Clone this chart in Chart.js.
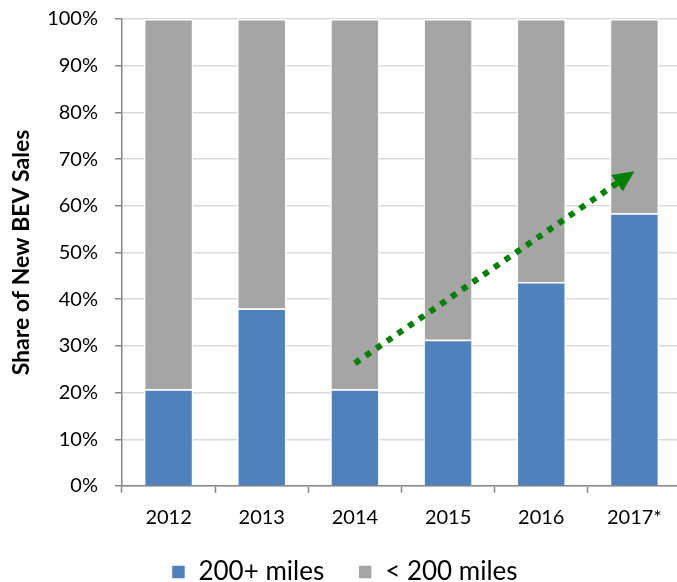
<!DOCTYPE html>
<html>
<head>
<meta charset="utf-8">
<script src="https://cdn.jsdelivr.net/npm/chart.js@4"></script>
<style>
  html, body { margin: 0; padding: 0; background: #fff; overflow: hidden; }
</style>
</head>
<body>
<canvas id="bev-chart" width="681" height="582"></canvas>
<script>
const years = ['2012', '2013', '2014', '2015', '2016', '2017*'];
// share of BEV sales with 200+ miles of range (%)
const longRange = [20.7, 38.0, 20.7, 31.3, 43.7, 58.4];
// the rest of the bar is the < 200 miles share
const shortRange = longRange.map(v => +(100 - v).toFixed(1));
const yTicks = [0, 10, 20, 30, 40, 50, 60, 70, 80, 90, 100];
// trend arrow, [category index, percent] at each end
const trendStart = [2, 26.3];
const trendEnd = [5, 67.4];

const FONT = 'Lato, "Open Sans", sans-serif';
const AXIS_GREY = '#868686';

// dotted green arrow drawn over the bars
const trendArrow = {
  id: 'trendArrow',
  afterDatasetsDraw(chart) {
    const { ctx, scales: { x, y } } = chart;
    const x1 = x.getPixelForValue(trendStart[0]), y1 = y.getPixelForValue(trendStart[1]);
    const x2 = x.getPixelForValue(trendEnd[0]), y2 = y.getPixelForValue(trendEnd[1]);
    const ang = Math.atan2(y2 - y1, x2 - x1);
    const head = 21, half = 10;
    const bx = x2 - head * Math.cos(ang), by = y2 - head * Math.sin(ang);
    ctx.save();
    ctx.strokeStyle = '#008000';
    ctx.fillStyle = '#008000';
    ctx.lineWidth = 6;
    ctx.setLineDash([6, 7]);
    ctx.beginPath();
    ctx.moveTo(x1, y1);
    ctx.lineTo(bx, by);
    ctx.stroke();
    ctx.setLineDash([]);
    ctx.beginPath();
    ctx.moveTo(x2, y2);
    ctx.lineTo(bx + half * Math.sin(ang), by - half * Math.cos(ang));
    ctx.lineTo(bx - half * Math.sin(ang), by + half * Math.cos(ang));
    ctx.closePath();
    ctx.fill();
    ctx.restore();
  }
};

new Chart(document.getElementById('bev-chart'), {
  type: 'bar',
  data: {
    labels: years,
    datasets: [
      {
        label: '200+ miles',
        data: longRange,
        backgroundColor: '#4f81bd',
        borderColor: '#ffffff',
        borderWidth: 1.5
      },
      {
        label: '< 200 miles',
        data: shortRange,
        backgroundColor: '#a5a5a5',
        borderColor: '#ffffff',
        borderWidth: 1.5
      }
    ]
  },
  options: {
    responsive: false,
    animation: false,
    categoryPercentage: 1,
    barPercentage: 0.53,
    layout: {
      autoPadding: false,
      padding: { top: 19, left: 8, right: 0, bottom: -13 }
    },
    plugins: {
      tooltip: { enabled: false },
      legend: {
        position: 'bottom',
        labels: {
          color: '#000',
          font: { family: FONT, size: 26 },
          boxWidth: 14,
          boxHeight: 14,
          padding: 34
        }
      }
    },
    scales: {
      x: {
        stacked: true,
        afterFit(scale) {
          scale.height = 39;
        },
        grid: {
          drawOnChartArea: false,
          tickLength: 7,
          tickColor: AXIS_GREY,
          tickWidth: 1.5
        },
        border: { color: AXIS_GREY, width: 1.5 },
        ticks: { color: '#000', font: { family: FONT, size: 20 }, padding: 13 }
      },
      y: {
        stacked: true,
        min: 0,
        max: 100,
        afterBuildTicks(scale) {
          scale.ticks = yTicks.map(v => ({ value: v }));
        },
        afterFit(scale) {
          scale.width = 114;
          scale.paddingTop = 0;
          scale.paddingBottom = 0;
        },
        grid: {
          color: '#d9d9d9',
          lineWidth: 1.5,
          tickLength: 7,
          tickColor: AXIS_GREY,
          tickWidth: 1.5
        },
        border: { color: AXIS_GREY, width: 1.5 },
        ticks: {
          color: '#000',
          font: { family: FONT, size: 20 },
          padding: 17,
          callback: v => v + '%'
        },
        title: {
          display: true,
          text: 'Share of New BEV Sales',
          color: '#000',
          font: { family: FONT, size: 23, weight: 'bold' },
          padding: { top: 0, bottom: 0 }
        }
      }
    }
  },
  plugins: [trendArrow]
});
</script>
</body>
</html>
